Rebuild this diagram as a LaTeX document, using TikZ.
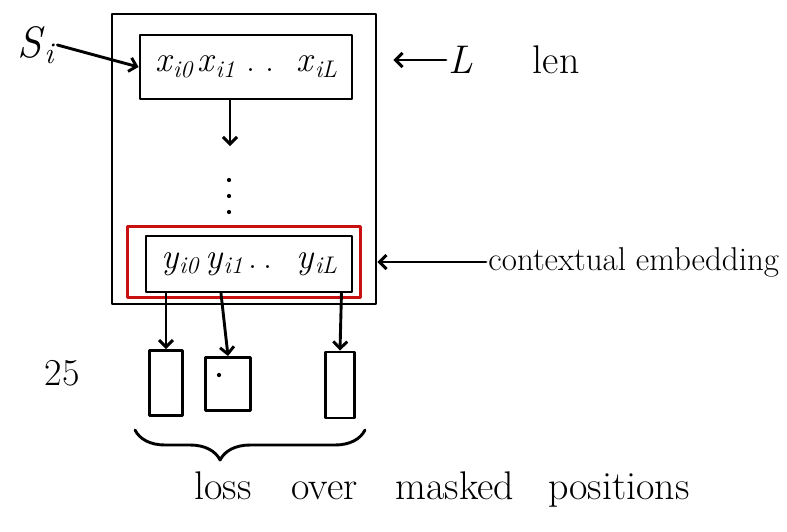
\documentclass[tikz,border=0pt]{standalone}
\usetikzlibrary{arrows.meta,decorations.pathreplacing}
\definecolor{penred}{RGB}{200,16,16}
\newcommand{\hsub}[3]{\textit{#1}\raisebox{-0.35ex}{\fontsize{#3}{#3}\selectfont\textit{#2}}}
\begin{document}
\begin{tikzpicture}[x=1pt,y=-1pt,line width=2.9pt,line cap=round,line join=round,
  arr/.style={-{Straight Barb[length=7pt,width=14pt]}},
  frame/.style={draw,inner sep=0pt},
  hand/.style={font=\fontsize{38}{44}\selectfont,inner sep=1pt},
  seq/.style={font=\fontsize{36}{40}\selectfont,inner sep=0pt},
  dot/.style={circle,fill,inner sep=1.5pt}]
\useasboundingbox (0,0) rectangle (787,531);
% outer model box
\node[frame,minimum width=264pt,minimum height=290pt] (outer) at (244,159) {};
% input sequence
\node[frame,minimum width=212pt,minimum height=64pt,seq] (top) at (246,67) {\hsub{x}{i0}{24}\hspace{4pt}\hsub{x}{i1}{24}\hspace{12pt}.\hspace{10pt}.\hspace{22pt}\hsub{x}{iL}{24}};
% vertical dots
\coordinate (dtop) at (230,146);
\node[dot] (d1) at (229,180) {};
\node[dot] (d2) at (229,196) {};
\node[dot] (d3) at (229,212) {};
% contextual embedding boxes
\node[draw=penred,line width=3pt,inner sep=0pt,minimum width=233pt,minimum height=71pt] (red) at (243.5,261.5) {};
\node[frame,minimum width=206pt,minimum height=56pt,seq] (ybox) at (249,264) {\hsub{y}{i0}{24}\hspace{6pt}\hsub{y}{i1}{24}\hspace{6pt}.\hspace{6pt}.\hspace{24pt}\hsub{y}{iL}{24}};
% labels
\node[hand,font=\fontsize{44}{50}\selectfont] (si) at (36,45) {\hsub{S}{i}{30}};
\node[hand,anchor=west,font=\fontsize{40}{46}\selectfont] (llen) at (446,60) {\textit{L}\hspace{60pt}len};
\node[hand,anchor=west,font=\fontsize{33}{38}\selectfont] (ce) at (486,262) {contextual embedding};
\node[hand] (n25) at (62,373) {25};
% output slots
\node[frame,minimum width=33pt,minimum height=65pt] (b1) at (166,383) {};
\node[frame,minimum width=45pt,minimum height=53pt] (b2) at (228,384) {};
\node[dot] (b2dot) at (219,375) {};
\node[frame,minimum width=29pt,minimum height=66pt] (b3) at (340,385) {};
\coordinate (brL) at (135,430);
\coordinate (brR) at (365,430);
\node[hand,font=\fontsize{40}{46}\selectfont] (loss) at (442,490) {loss\hspace{40pt}over\hspace{38pt}masked\hspace{34pt}positions};
% connectors
\draw[arr] (si.east) -- (top.west);
\draw[arr] (llen.west) -- ([xshift=16pt]outer.east |- llen.west);
\draw[arr] (top.south -| dtop) -- (dtop);
\draw[arr] (ce.west) -- (outer.east |- ce.west);
\draw[arr] (ybox.south -| b1) -- (b1.north);
\draw[arr] ([xshift=-28pt]ybox.south) -- (b2.north);
\draw[arr] ([xshift=-12pt]ybox.south east) -- (b3.north);
\draw[decorate,decoration={brace,amplitude=30pt,mirror,aspect=0.37}] (brL) -- (brR);
\end{tikzpicture}
\end{document}
